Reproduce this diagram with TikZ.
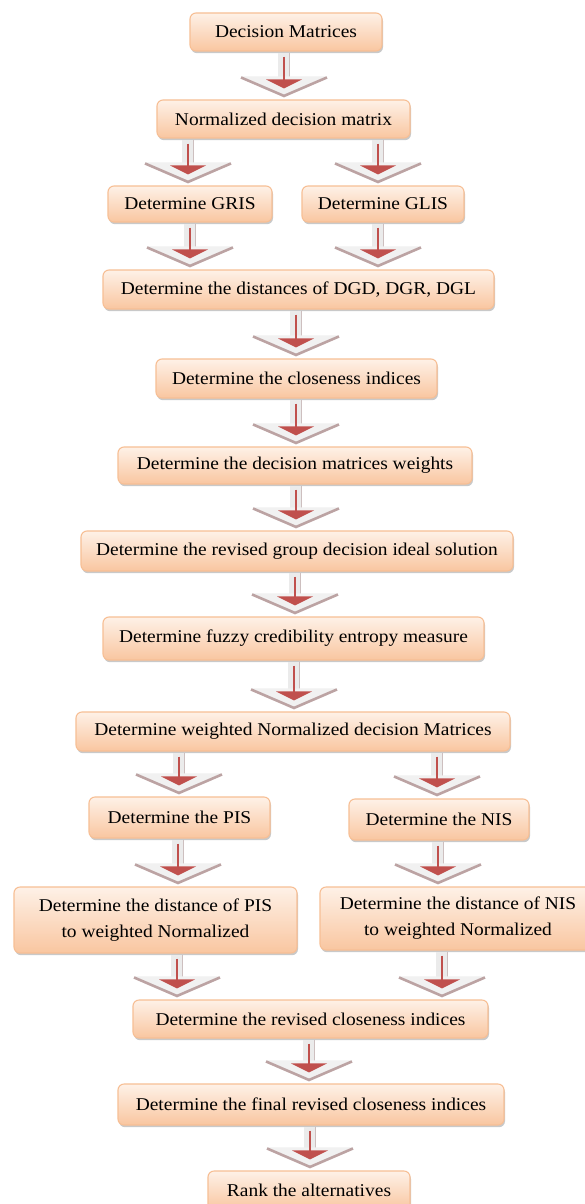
\documentclass[tikz,border=0pt]{standalone}
\usepackage{fontspec}
\setmainfont{Liberation Serif}[FakeStretch=1.08]
\usetikzlibrary{calc,shadows}
\definecolor{boxline}{HTML}{F7BF95}
\definecolor{boxtop}{HTML}{FEF1E7}
\definecolor{boxbot}{HTML}{F9C6A0}
\definecolor{arrred}{HTML}{C0504D}
\definecolor{chevedge}{HTML}{BCA3A3}
\definecolor{chevfill}{HTML}{F1F1F1}
\definecolor{shaftfill}{HTML}{EBEBEB}
\definecolor{shaftedge}{HTML}{CDBFBF}
\tikzset{
  stepbox/.style={draw=boxline, line width=1.1pt, rounded corners=6pt,
    top color=boxtop, bottom color=boxbot, inner sep=0pt, align=center,
    font=\fontsize{18}{26}\selectfont, text=black,
    drop shadow={shadow xshift=1pt, shadow yshift=-2.2pt, opacity=0.35, fill=black!60}},
  shaft/.style={fill=shaftfill},
  shaftrim/.style={draw=shaftedge, line width=1.4pt},
  chevbody/.style={fill=chevfill},
  chevrim/.style={draw=chevedge, line width=2.6pt, line join=miter},
  redline/.style={draw=arrred, line width=1.8pt},
  redhead/.style={fill=arrred}
}
\newcommand\stepnode[6]{%
  \node[stepbox, minimum width={#4pt-#2pt}, minimum height={#5pt-#3pt}] (#1)
    at ({(#2+#4)/2},{(#3+#5)/2}) {#6};}
\newcommand\flowarrow[3]{%
  \coordinate (fa) at (#1,0);
  \coordinate (fs) at (fa |- #2.south);
  \coordinate (ft) at (fa |- #3.north);
  \path[shaft] ($(fs)+(-6,1)$) rectangle ($(ft)+(6,-22)$);
  \path[shaftrim] ($(fs)+(5.3,1)$) -- ($(ft)+(5.3,-22)$);
  \path[chevbody] ($(ft)+(-43,-23)$) -- ($(ft)+(43,-23)$) -- ($(ft)+(0,-4)$) -- cycle;
  \path[chevrim] ($(ft)+(-43,-22)$) -- ($(ft)+(0,-3.5)$) -- ($(ft)+(43,-22)$);
  \path[redline] ($(fs)+(0,5)$) -- ($(ft)+(0,-18)$);
  \path[redhead] ($(ft)+(-18,-20)$) -- ($(ft)+(18,-20)$) -- ($(ft)+(0,-11)$) -- cycle;
}
\begin{document}
\begin{tikzpicture}[x=1pt,y=-1pt]
\useasboundingbox[fill=white] (0,0) rectangle (585,1204);
\stepnode{dm}{190}{13}{382}{51}{Decision Matrices}
\stepnode{ndm}{157}{100}{410}{138}{Normalized decision matrix}
\stepnode{gris}{108}{186}{272}{222}{Determine GRIS}
\stepnode{glis}{302}{186}{464}{222}{Determine GLIS}
\stepnode{dist}{103}{270}{494}{309}{Determine the distances of DGD, DGR, DGL}
\stepnode{close}{156}{359}{437}{398}{Determine the closeness indices}
\stepnode{wts}{118}{447}{472}{484}{Determine the decision matrices weights}
\stepnode{rgd}{81}{531}{513}{571}{Determine the revised group decision ideal solution}
\stepnode{fuzzy}{103}{617}{484}{660}{Determine fuzzy credibility entropy measure}
\stepnode{wnd}{76}{712}{510}{751}{Determine weighted Normalized decision Matrices}
\stepnode{pis}{89}{797}{270}{838}{Determine the PIS}
\stepnode{nis}{349}{799}{529}{840}{Determine the NIS}
\stepnode{dpis}{14}{887}{297}{953}{Determine the distance of PIS\\to weighted Normalized}
\stepnode{dnis}{320}{887}{596}{950}{Determine the distance of NIS\\to weighted Normalized}
\stepnode{rci}{133}{1000}{488}{1038}{Determine the revised closeness indices}
\stepnode{frci}{118}{1084}{504}{1125}{Determine the final revised closeness indices}
\stepnode{rank}{208}{1171}{410}{1210}{Rank the alternatives}
\flowarrow{284}{dm}{ndm}
\flowarrow{188}{ndm}{gris}
\flowarrow{378}{ndm}{glis}
\flowarrow{190}{gris}{dist}
\flowarrow{378}{glis}{dist}
\flowarrow{296}{dist}{close}
\flowarrow{296}{close}{wts}
\flowarrow{296}{wts}{rgd}
\flowarrow{295}{rgd}{fuzzy}
\flowarrow{294}{fuzzy}{wnd}
\flowarrow{179}{wnd}{pis}
\flowarrow{437}{wnd}{nis}
\flowarrow{178}{pis}{dpis}
\flowarrow{438}{nis}{dnis}
\flowarrow{177}{dpis}{rci}
\flowarrow{442}{dnis}{rci}
\flowarrow{309}{rci}{frci}
\flowarrow{310}{frci}{rank}
\end{tikzpicture}
\end{document}
